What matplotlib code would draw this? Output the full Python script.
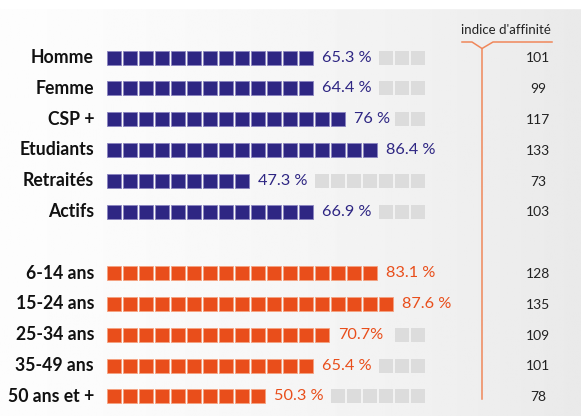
import numpy as np
import matplotlib.pyplot as plt
from matplotlib.patches import Rectangle

# data
categories = ["Homme", "Femme", "CSP +", "Etudiants", "Retraités", "Actifs",
              "6-14 ans", "15-24 ans", "25-34 ans", "35-49 ans", "50 ans et +"]
values = [65.3, 64.4, 76, 86.4, 47.3, 66.9, 83.1, 87.6, 70.7, 65.4, 50.3]
value_labels = ["65.3 %", "64.4 %", "76 %", "86.4 %", "47.3 %", "66.9 %",
                "83.1 %", "87.6 %", "70.7%", "65.4 %", "50.3 %"]
indices = [101, 99, 117, 133, 73, 103, 128, 135, 109, 101, 78]
groups = [0, 0, 0, 0, 0, 0, 1, 1, 1, 1, 1]

purple = "#2e2683"
orange = "#e94e1b"
grey = "#dcdcdc"
colors = [purple, orange]
edges = ["#8a84c0", "#f5a17f"]

W, H = 581, 416
fig = plt.figure(figsize=(W / 100, H / 100), dpi=100)
ax = fig.add_axes([0, 0, 1, 1])
ax.set_xlim(0, W)
ax.set_ylim(H, 0)
ax.axis("off")

# background gradient
grad = np.linspace(0, 1, 256) ** 1.5
bg = 0.99 - 0.075 * grad
img = np.tile(bg, (2, 1))
ax.imshow(img, cmap="gray", vmin=0, vmax=1, extent=[0, W, H, 8], aspect="auto", zorder=0)
ax.add_patch(Rectangle((0, 0), W, 8, color="white", zorder=0))

x0 = 107
pitch = 16
sq = 14
y0 = 57.5
row_pitch = 30.8
n_slots = 20

for i, cat in enumerate(categories):
    g = groups[i]
    pos = i + g  # gap between groups
    yc = y0 + pos * row_pitch
    n = int(round(values[i] / 5))
    for k in range(n):
        ax.add_patch(Rectangle((x0 + k * pitch, yc - sq / 2), sq, sq,
                               facecolor=colors[g], edgecolor=edges[g], lw=0.6, zorder=2))
    text_slots = 3 if len(value_labels[i]) < 5 else 4
    for k in range(n + text_slots, n_slots):
        ax.add_patch(Rectangle((x0 + k * pitch, yc - sq / 2), sq, sq,
                               facecolor=grey, edgecolor="none", zorder=2))
    ax.text(94, yc, cat, ha="right", va="center", fontsize=12.7, fontweight="bold",
            family="Lato", color="#111111")
    ax.text(x0 + (n - 1) * pitch + sq + 9, yc, value_labels[i], ha="left", va="center",
            fontsize=11.7, family="Lato", color=colors[g])
    ax.text(538, yc + 1, str(indices[i]), ha="center", va="center", fontsize=10,
            family="Lato", color="#222222")

# affinity header and bracket
ax.text(506, 30, "indice d'affinité", ha="center", va="center", fontsize=9.5,
        family="Lato", color="#222222")
bx = [462, 472, 482, 493, 552]
by = [42, 42, 48.5, 42, 42]
ax.plot(bx, by, color="#f0875a", lw=1.1, zorder=3)
ax.plot([482, 482], [48.5, 399], color="#f0875a", lw=1.1, zorder=3)

fig.savefig("out.png", dpi=100)
